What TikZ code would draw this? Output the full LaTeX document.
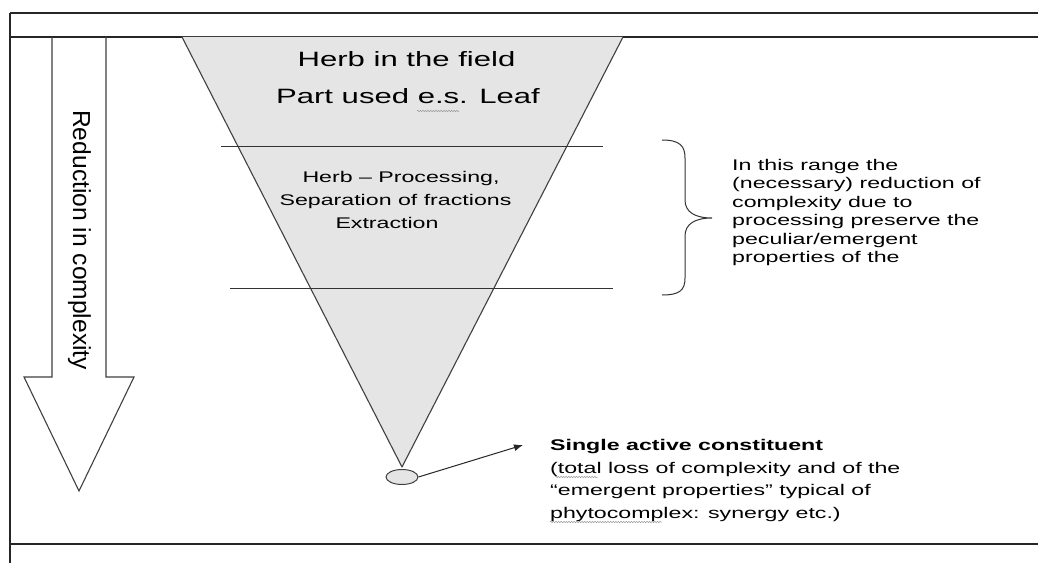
\documentclass[tikz,border=0pt]{standalone}
\usepackage{graphicx}
\usepackage{fontspec}
\setmainfont{Liberation Sans}
\usetikzlibrary{arrows.meta,decorations.pathmorphing,shapes.geometric}
\newcommand{\sx}[1]{\scalebox{1.5}[1]{#1}}
\begin{document}
\begin{tikzpicture}[x=1bp,y=-1bp,
  frame/.style={line width=1.4bp,draw=black!85},
  sep/.style={line width=1bp,draw=black!80},
  cone/.style={fill=black!10,draw=black!75,line width=1.1bp,line join=round},
  wavy/.style={draw=gray!80,line width=0.5bp,decorate,decoration={snake,amplitude=0.7bp,segment length=2.6bp}},
  big/.style={inner sep=0pt,font=\fontsize{20.8}{25}\selectfont},
  small/.style={inner sep=0pt,font=\fontsize{15.5}{18.5}\selectfont},
  smallb/.style={inner sep=0pt,font=\fontsize{15.5}{18.5}\selectfont\bfseries},
]
\useasboundingbox[fill=white] (0,0) rectangle (1038,563);
% frame
\draw[frame] (10,13) -- (1038,13);
\draw[frame] (10,37) -- (1038,37);
\draw[frame] (10,544) -- (1038,544);
\draw[frame] (10,13) -- (10,563);
% big down arrow
\draw[line width=1.1bp,draw=black!75,line join=miter]
  (52,37) -- (52,377) -- (24,377) -- (79,491) -- (134,377) -- (106,377) -- (106,37);
\node[inner sep=0pt,font=\fontsize{24.7}{28}\selectfont,rotate=-90,anchor=base west] (red) at (73,110) {Reduction in complexity};
% cone
\coordinate (cl) at (182,37);
\coordinate (cr) at (623,37);
\coordinate (ap) at (402,467);
\filldraw[cone] (cl) -- (ap) -- (cr);
% separators
\draw[sep] (221,147) -- (603,147);
\draw[sep] (230,288) -- (613,288);
% titles
\node[big,anchor=base] (t1) at (406.5,67) {\sx{Herb in the field}};
\node[big,anchor=base] (t2) at (408,104) {\sx{Part used e.s. Leaf}};
\draw[wavy] (417,111) -- (459,111);
% middle text
\node[small,anchor=base] (m1) at (401,183) {\sx{Herb – Processing,}};
\node[small,anchor=base] (m2) at (395.5,206) {\sx{Separation of fractions}};
\node[small,anchor=base] (m3) at (387,229) {\sx{Extraction}};
% brace
\draw[line width=1bp,draw=black!80]
  (662,140) .. controls (680,140) and (685,146) .. (685,158)
  -- (685,200) .. controls (685,212) and (695,218) .. (712,218)
  .. controls (695,218) and (685,224) .. (685,236)
  -- (685,278) .. controls (685,290) and (680,295) .. (662,295);
% right text
\node[small,anchor=base west] (r1) at (732,170.5) {\sx{In this range the}};
\node[small,anchor=base west] (r2) at (732,188.9) {\sx{(necessary) reduction of}};
\node[small,anchor=base west] (r3) at (732,207.3) {\sx{complexity due to}};
\node[small,anchor=base west] (r4) at (732,225.7) {\sx{processing preserve the}};
\node[small,anchor=base west] (r5) at (732,244.1) {\sx{peculiar/emergent}};
\node[small,anchor=base west] (r6) at (732,262.5) {\sx{properties of the}};
% single constituent
\node[ellipse,draw=black!75,fill=black!10,line width=1bp,minimum width=32bp,minimum height=15bp,inner sep=0pt] (el) at (402,477) {};
\coordinate (tip) at (523,445);
\draw[line width=1bp,draw=black!85,-{Latex[length=9bp,width=7bp]}] (el.east) -- (tip);
\node[smallb,anchor=base west] (b1) at (550,450) {\sx{Single active constituent}};
\node[small,anchor=base west] (b2) at (550,473) {\sx{(total loss of complexity and of the}};
\node[small,anchor=base west] (b3) at (550,495.5) {\sx{“emergent properties” typical of}};
\node[small,anchor=base west] (b4) at (550,518) {\sx{phytocomplex: synergy etc.)}};
\draw[wavy] (555,477) -- (598,477);
\draw[wavy] (550,522) -- (662,522);
\end{tikzpicture}
\end{document}
